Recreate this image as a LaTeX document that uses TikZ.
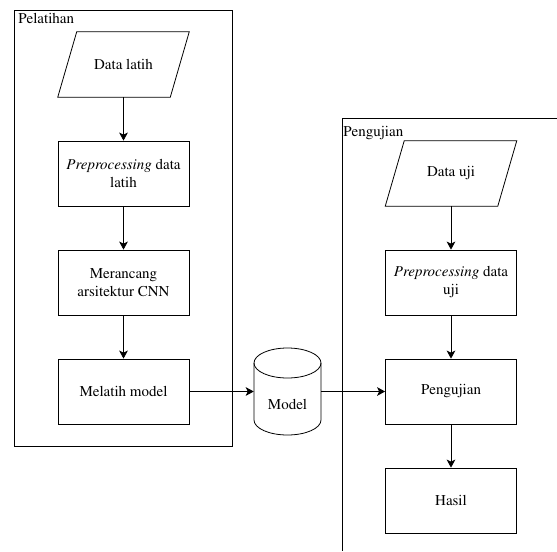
\documentclass[tikz,border=0pt]{standalone}
\usepackage[T1]{fontenc}
\usepackage{times}
\usetikzlibrary{arrows.meta}

% slanted outline round an input/output node
\newcommand{\drawpar}[1]{%
  \draw[line width=0.6pt] ([xshift=7.125pt]#1.north west) -- ([xshift=7.125pt]#1.north east)
    -- ([xshift=-7.125pt]#1.south east) -- ([xshift=-7.125pt]#1.south west) -- cycle;}

\begin{document}
\begin{tikzpicture}[x=0.75pt, y=-0.75pt,
  every node/.style={font=\fontsize{11.25}{13.5}\selectfont},
  proc/.style={draw, line width=0.6pt, align=center, minimum width=98.25pt, minimum height=48.75pt, inner sep=1pt},
  io/.style={align=center, minimum width=84pt, minimum height=48.75pt, inner sep=1pt},
  frame/.style={draw, line width=0.6pt},
  flow/.style={line width=0.6pt, -{Stealth[length=6pt, width=6.5pt, inset=1.5pt]}},
  dbtext/.style={minimum width=50.25pt, inner sep=0pt}]
\useasboundingbox (0,0) rectangle (557,551);

\begin{scope}
% Pelatihan
\draw[frame] (14,10) rectangle (232,446);
\node[anchor=north west, inner sep=0pt] (pelatihan) at (18,13) {Pelatihan};
\node[io] (datalatih) at (123.5,64.5) {Data latih};
\drawpar{datalatih}
\node[proc] (preplatih) at (123.5,173.5) {\textit{Preprocessing} data\\latih};
\node[proc] (merancang) at (123.5,282.5) {Merancang\\arsitektur CNN};
\node[proc] (melatih) at (123.5,391.5) {Melatih model};
\draw[flow] (datalatih) -- (preplatih);
\draw[flow] (preplatih) -- (merancang);
\draw[flow] (merancang) -- (melatih);

% model
\draw[line width=0.6pt] (254,363) -- (254,420) arc[start angle=180, end angle=0, x radius=33.5, y radius=15] -- (321,363);
\draw[line width=0.6pt] (287.5,363) ellipse [x radius=33.5, y radius=15];
\node[dbtext] (model) at (287.5,404) {Model};
\end{scope}

\begin{scope}
% Pengujian
\draw[frame] (557,118) -- (342,118) -- (342,551);
\node[anchor=north west, inner sep=0pt] (pengujianlbl) at (343,126) {Pengujian};
\node[io] (datauji) at (451,173.5) {Data uji};
\drawpar{datauji}
\node[proc] (prepuji) at (451,282.5) {\textit{Preprocessing} data\\uji};
\node[proc] (pengujian) at (451,391.5) {Pengujian};
\node[proc] (hasil) at (451,500.5) {Hasil};
\draw[flow] (datauji) -- (prepuji);
\draw[flow] (prepuji) -- (pengujian);
\draw[flow] (pengujian) -- (hasil);
\end{scope}

\draw[flow] (melatih) -- (melatih -| model.west);
\draw[flow] (model.east |- pengujian) -- (pengujian);
\end{tikzpicture}
\end{document}
